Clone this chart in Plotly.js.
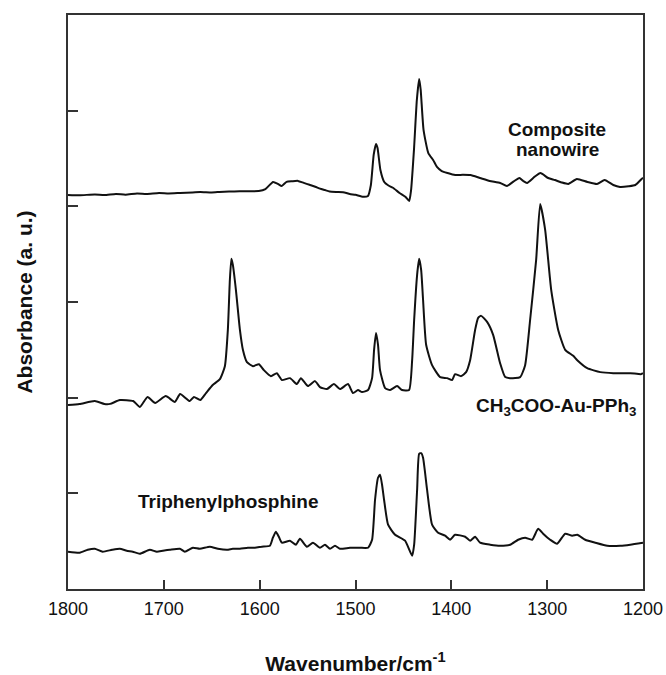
<!DOCTYPE html>
<html>
<head>
<meta charset="utf-8">
<script src="https://cdn.plot.ly/plotly-3.0.1.min.js"></script>
<style>html,body{margin:0;padding:0;background:#fff;}#chart{width:666px;height:675px;}</style>
</head>
<body>
<div id="chart"></div>
<script>
// Composite nanowire (top spectrum)
var compositeWn = [1800,1788,1772,1762,1750,1740,1728,1718,1705,1695,1683,1670,1662,1650,1642,1632,1621,1610,1601,1594,1586,1581,1577,1572,1566,1560,1554,1548,1542,1537,1532,1527,1520,1513,1506,1500,1492,1487,1484,1481,1478.6,1477,1474,1470,1466,1461,1454,1448,1444,1442,1439,1436,1433.6,1432,1429,1424,1419,1415,1410,1404,1396,1388,1380,1370,1360,1349,1342,1335,1329,1325,1321,1313,1307,1299,1292,1285,1278,1269,1258,1248,1240,1231,1224,1215,1208,1201,1200];
var compositeAbs = [4.119,4.115,4.125,4.118,4.13,4.122,4.135,4.13,4.14,4.135,4.14,4.145,4.15,4.145,4.15,4.155,4.157,4.158,4.16,4.18,4.255,4.235,4.213,4.255,4.262,4.266,4.245,4.225,4.205,4.185,4.17,4.155,4.15,4.148,4.13,4.12,4.10,4.108,4.22,4.54,4.652,4.61,4.38,4.255,4.22,4.194,4.14,4.10,4.056,4.17,4.59,5.11,5.33,5.22,4.80,4.557,4.485,4.412,4.369,4.348,4.327,4.33,4.327,4.296,4.265,4.244,4.213,4.26,4.296,4.265,4.244,4.31,4.348,4.296,4.275,4.25,4.234,4.286,4.255,4.234,4.275,4.223,4.203,4.21,4.223,4.29,4.30];

// CH3COO-Au-PPh3 (middle spectrum)
var acetateWn = [1800,1788,1772,1762,1756,1746,1732,1725,1717,1709,1698,1688.5,1683,1673,1668.6,1662,1656,1649,1641.5,1636.3,1633.2,1631.1,1629.5,1628,1624.8,1620.6,1617.5,1613.3,1607,1600.8,1595.6,1588.3,1582.1,1576.8,1568.4,1561.1,1557,1549.6,1542.3,1537.1,1529.8,1522.5,1516.2,1507.8,1502.6,1497.4,1493.2,1486.9,1482.7,1480.6,1478.6,1476.5,1474.4,1469.1,1463.9,1456.6,1451.4,1444.1,1440.9,1438.8,1435.7,1433.6,1431.5,1429.5,1426.3,1420.1,1411.7,1404.4,1399.2,1396.1,1389.8,1384.6,1380.4,1375.2,1372,1368.9,1362.7,1356.4,1349.1,1343.8,1338.6,1328.2,1323,1317.8,1311.5,1307.3,1302.1,1295.8,1288.5,1281.2,1272.8,1268.6,1258.2,1244.6,1231,1213.3,1201.8,1200];
var acetateAbs = [1.924,1.934,1.965,1.934,1.935,1.975,1.965,1.903,2.007,1.944,2.017,1.955,2.038,1.965,2.007,1.975,2.048,2.132,2.194,2.329,2.708,3.23,3.451,3.39,3.127,2.708,2.50,2.371,2.329,2.350,2.288,2.225,2.256,2.184,2.204,2.142,2.204,2.121,2.173,2.111,2.090,2.142,2.090,2.142,2.048,2.080,2.059,2.080,2.204,2.50,2.677,2.553,2.288,2.100,2.080,2.121,2.080,2.080,2.392,2.812,3.284,3.451,3.336,3.023,2.553,2.340,2.215,2.204,2.184,2.246,2.225,2.267,2.392,2.708,2.834,2.855,2.792,2.657,2.360,2.215,2.204,2.215,2.340,2.812,3.440,4.025,3.754,3.127,2.708,2.500,2.437,2.392,2.308,2.267,2.256,2.256,2.246,2.256];

// Triphenylphosphine (bottom spectrum)
var pph3Wn = [1800,1787.8,1779.4,1772.1,1763.8,1754,1746,1738.7,1732.4,1725.1,1714.7,1707.3,1701,1693.8,1683.3,1678.1,1669.7,1662.4,1652,1643.6,1634.2,1628,1620.6,1612.3,1605,1597.7,1589.3,1586.2,1583.1,1580,1576.8,1568.4,1562.2,1558,1550.7,1544.4,1537.1,1531.9,1526.6,1521.4,1516.2,1505.7,1495.3,1486.9,1482.7,1479.6,1476.5,1474.4,1472.3,1470.2,1466,1458.7,1448.3,1440.9,1438.8,1435.7,1433.6,1431.5,1429.5,1425.3,1420.1,1413.8,1406.5,1401.3,1396.1,1385.6,1380.4,1375.2,1370,1359.5,1349.1,1338.6,1330.3,1323,1315.7,1309.4,1304.2,1296.9,1289.6,1281.2,1273.9,1268.6,1260.3,1249.8,1237.3,1223.7,1213.3,1200];
var pph3Abs = [0.390,0.379,0.41,0.421,0.390,0.41,0.421,0.40,0.390,0.369,0.410,0.39,0.400,0.41,0.421,0.390,0.431,0.42,0.442,0.421,0.410,0.42,0.421,0.431,0.431,0.442,0.452,0.536,0.599,0.546,0.484,0.505,0.463,0.525,0.442,0.484,0.431,0.463,0.421,0.452,0.421,0.431,0.431,0.431,0.515,0.933,1.163,1.194,1.09,0.933,0.672,0.567,0.505,0.348,0.463,1.037,1.413,1.42,1.372,1.037,0.672,0.588,0.557,0.515,0.567,0.546,0.505,0.546,0.484,0.463,0.452,0.463,0.515,0.536,0.515,0.630,0.578,0.515,0.473,0.578,0.557,0.567,0.515,0.484,0.452,0.452,0.463,0.484];

var xTicks = [1800,1700,1600,1500,1400,1300,1200];
var yTicks = [1,2,3,4,5];
var labels = ["Composite", "nanowire", "CH<sub>3</sub>COO-Au-PPh<sub>3</sub>", "Triphenylphosphine"];

var FONT = "Liberation Sans, Arial, Helvetica, sans-serif";
function trace(x, y) {
  return {x: x, y: y, type: "scatter", mode: "lines",
    line: {color: "#111", width: 2, shape: "spline", smoothing: 0.5},
    hoverinfo: "skip", showlegend: false};
}

var data = [trace(compositeWn, compositeAbs), trace(acetateWn, acetateAbs), trace(pph3Wn, pph3Abs)];

var layout = {
  width: 666, height: 675,
  margin: {l: 68, r: 23, t: 15, b: 86},
  paper_bgcolor: "#fff", plot_bgcolor: "#fff",
  showlegend: false,
  xaxis: {
    range: [1800, 1200], tickvals: xTicks, ticktext: xTicks.map(String),
    ticks: "inside", ticklen: 9, tickwidth: 2, tickcolor: "#333",
    showline: true, linecolor: "#333", linewidth: 2, mirror: true,
    showgrid: false, zeroline: false, ticklabelstandoff: 2,
    tickfont: {family: FONT, size: 18, color: "#111"},
    title: {text: "<b>Wavenumber/cm<sup>-1</sup></b>", font: {family: FONT, size: 21, color: "#111"}, standoff: 40}
  },
  yaxis: {
    range: [0, 6], tickvals: yTicks, showticklabels: false,
    ticks: "inside", ticklen: 10, tickwidth: 2, tickcolor: "#333",
    showline: true, linecolor: "#333", linewidth: 2, mirror: true,
    showgrid: false, zeroline: false,
    title: {text: "<b>Absorbance (a. u.)</b>", font: {family: FONT, size: 21, color: "#111"}, standoff: 28}
  },
  annotations: [
    {x: 1289.5, y: 4.80, text: "<b>" + labels[0] + "</b>"},
    {x: 1289.5, y: 4.59, text: "<b>" + labels[1] + "</b>"},
    {x: 1291, y: 1.90, text: "<b>" + labels[2] + "</b>"},
    {x: 1633, y: 0.917, text: "<b>" + labels[3] + "</b>"}
  ].map(function (a) {
    return Object.assign({xref: "x", yref: "y", showarrow: false, xanchor: "center", yanchor: "middle",
      font: {family: FONT, size: 19, color: "#111"}}, a);
  })
};

Plotly.newPlot("chart", data, layout, {staticPlot: true, displayModeBar: false});
</script>
</body>
</html>
